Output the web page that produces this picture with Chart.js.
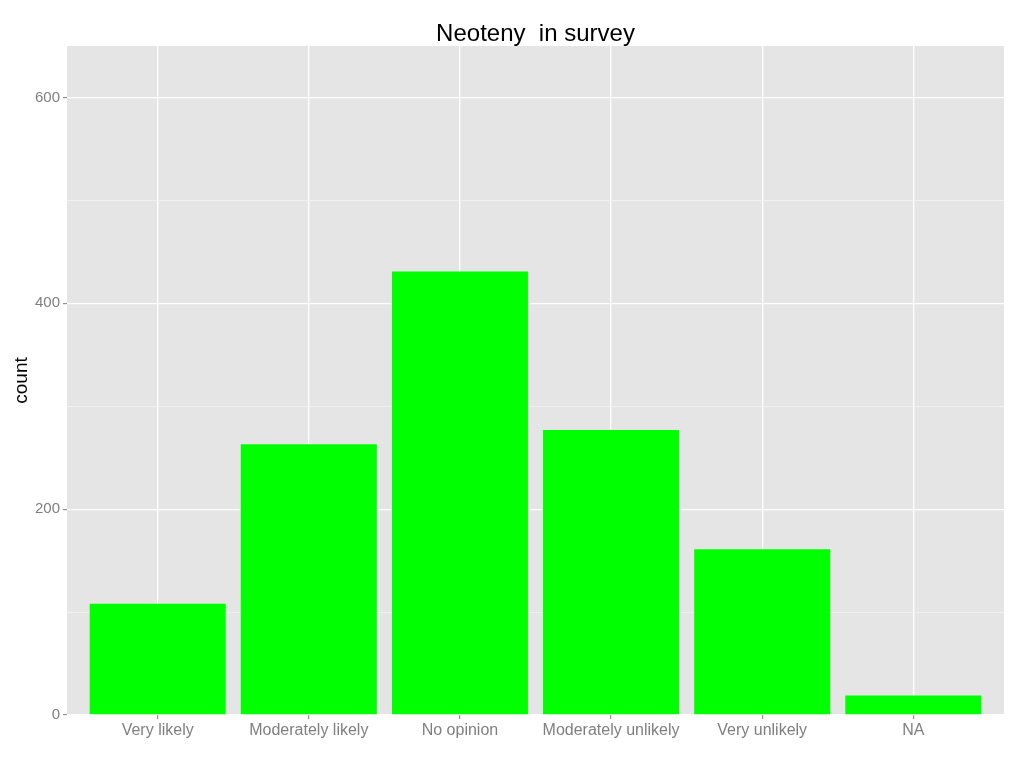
<!DOCTYPE html>
<html lang="en">
<head>
    <meta charset="UTF-8">
    <title>Neoteny in survey</title>
    <script src="https://cdn.jsdelivr.net/npm/chart.js"></script>
    <style>
        html, body { margin: 0; padding: 0; background: #ffffff; }
        #wrap { width: 1024px; height: 768px; }
    </style>
</head>
<body>
    <div id="wrap"><canvas id="chartNeoteny" width="1024" height="768"></canvas></div>
    <script>
        // Data
        const categories = ['Very likely', 'Moderately likely', 'No opinion', 'Moderately unlikely', 'Very unlikely', 'NA'];
        const counts = [108, 263, 431, 277, 161, 19];
        const yTicks = [0, 200, 400, 600];

        const titleText = 'Neoteny  in survey';
        const labelGrey = '#7f7f7f';

        // ggplot-like grey panel and centred title
        const panelPlugin = {
            id: 'panel',
            beforeDraw(chart) {
                const a = chart.chartArea;
                const ctx = chart.ctx;
                ctx.save();
                ctx.fillStyle = '#e5e5e5';
                ctx.fillRect(a.left, a.top, a.right - a.left, a.bottom - a.top);
                ctx.restore();
            },
            afterDraw(chart) {
                const a = chart.chartArea;
                const ctx = chart.ctx;
                ctx.save();
                ctx.fillStyle = '#000000';
                ctx.font = '24px "Liberation Sans", Arial, sans-serif';
                ctx.textAlign = 'center';
                ctx.textBaseline = 'middle';
                ctx.fillText(titleText, (a.left + a.right) / 2, 34);
                ctx.restore();
            }
        };

        const isMajor = v => yTicks.includes(v);

        new Chart(document.getElementById('chartNeoteny').getContext('2d'), {
            type: 'bar',
            data: {
                datasets: [{
                    label: 'count',
                    data: counts.map((c, i) => ({ x: i + 1, y: c })),
                    backgroundColor: '#00ff00',
                    borderWidth: 0,
                    barPercentage: 0.9,
                    categoryPercentage: 1.0
                }]
            },
            options: {
                responsive: false,
                animation: false,
                layout: { padding: { top: 46, right: 20, left: 0, bottom: 0 } },
                plugins: {
                    legend: { display: false },
                    tooltip: { enabled: false },
                    title: { display: false }
                },
                scales: {
                    x: {
                        type: 'linear',
                        offset: false,
                        min: 0.4,
                        max: 6.6,
                        afterBuildTicks: scale => {
                            scale.ticks = categories.map((c, i) => ({ value: i + 1 }));
                        },
                        afterFit: scale => { scale.height = 53; },
                        ticks: {
                            callback: v => categories[Math.round(v) - 1] || '',
                            color: labelGrey,
                            font: { family: '"Liberation Sans", Arial, sans-serif', size: 16 },
                            padding: 2,
                            maxRotation: 0,
                            autoSkip: false
                        },
                        grid: {
                            offset: false,
                            color: '#ffffff',
                            lineWidth: 1.3,
                            drawTicks: true,
                            tickLength: 4,
                            tickColor: labelGrey,
                            tickWidth: 1
                        },
                        border: { display: false }
                    },
                    y: {
                        min: 0,
                        max: 650,
                        afterFit: scale => { scale.width = 67; },
                        ticks: {
                            stepSize: 100,
                            includeBounds: false,
                            callback: v => isMajor(v) ? v : '',
                            color: labelGrey,
                            font: { family: '"Liberation Sans", Arial, sans-serif', size: 15 },
                            padding: 3
                        },
                        grid: {
                            color: ctx => isMajor(ctx.tick.value) ? '#ffffff' : '#f2f2f2',
                            lineWidth: ctx => isMajor(ctx.tick.value) ? 1.3 : 0.8,
                            drawTicks: true,
                            tickLength: 4,
                            tickColor: ctx => isMajor(ctx.tick.value) ? labelGrey : 'rgba(0,0,0,0)',
                            tickWidth: 1
                        },
                        border: { display: false },
                        title: {
                            display: true,
                            text: 'count',
                            color: '#000000',
                            font: { family: '"Liberation Sans", Arial, sans-serif', size: 19 },
                            padding: { top: 10, bottom: 0 }
                        }
                    }
                }
            },
            plugins: [panelPlugin]
        });
    </script>
</body>
</html>
